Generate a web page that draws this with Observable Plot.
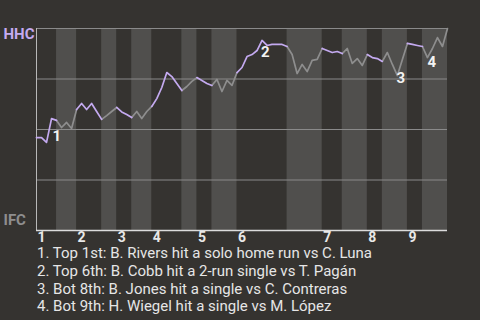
<!DOCTYPE html>
<html><head><meta charset="utf-8">
<script src="https://cdn.jsdelivr.net/npm/d3@7"></script>
<script src="https://cdn.jsdelivr.net/npm/@observablehq/plot@0.6"></script>
<style>
html,body{margin:0;padding:0;background:#353330;width:480px;height:320px;overflow:hidden;}
#notes{font-family:Roboto,sans-serif;font-size:15px;color:#e6e6e6;padding-left:37px;line-height:17.8px;}
</style></head><body>
<div id="chart"></div><div id="notes"></div>
<script>
// plate appearances per half-inning (Top 1, Bot 1, ..., Bot 9)
const halfInningPAs = [4,4,5,3,3,4,6,3,3,5,10,7,4,5,3,5,3,5];
// HHC win probability (%) after each plate appearance
const winProb = [46.0,46.0,43.6,55.4,54.5, 51.0,53.5,50.5,59.9, 62.9,59.9,62.9,58.9,55.0,
  56.9,58.9,60.9, 58.7,57.4,55.9, 58.9,55.4,58.9,61.4, 65.3,70.8,78.2,76.2,72.8,69.3,
  71.3,73.8,75.7, 74.3,72.8,71.8, 74.8,68.8,74.3,71.8,78.2,
  80.7,86.1,87.1,89.1,94.1,91.6,92.1,92.1,92.1,91.1,
  87.1,77.7,82.2,78.7,84.2,84.7,90.1, 89.1,88.1,88.6,87.6,
  90.1,82.7,85.1,81.7,87.1, 85.6,85.1,83.7, 88.1,82.2,76.7,84.7,92.6,
  92.1,91.6,91.1, 85.6,90.1,95.5,91.1,100];
const inningLabels = ["1","2","3","4","5","6","7","8","9"];
const teamTop = "HHC", teamBottom = "IFC";
const annotationIdx = [3,45,72,78];
const annotationText = [
  "1. Top 1st: B. Rivers hit a solo home run vs C. Luna",
  "2. Top 6th: B. Cobb hit a 2-run single vs T. Pagán",
  "3. Bot 8th: B. Jones hit a single vs C. Contreras",
  "4. Bot 9th: H. Wiegel hit a single vs M. López"
];

const purple = "#c4aaf0", gray = "#8e8e8e";
const labelOffsets = [[1,12],[-1,6],[-1,-3],[0,-1]];

const bounds = [0];
halfInningPAs.forEach(n => bounds.push(bounds[bounds.length-1] + n));
const halves = halfInningPAs.map((n,h) => ({x1: bounds[h], x2: bounds[h+1], top: h % 2 === 0}));
const lineData = halves.flatMap((h,k) => d3.range(h.x1, h.x2 + 1).map(i => ({i, wp: winProb[i], half: k, top: h.top})));

const plot = Plot.plot({
  width: 480, height: 245,
  marginTop: 28, marginBottom: 15, marginLeft: 36, marginRight: 33,
  x: {domain: [0, bounds[bounds.length-1]], axis: null},
  y: {domain: [0, 100], axis: null},
  style: {background: "#353330", fontFamily: "Roboto, sans-serif"},
  marks: [
    Plot.rect(halves.filter(h => !h.top), {x1: "x1", x2: "x2", y1: 0, y2: 100, fill: "#504f4d"}),
    Plot.ruleY([25, 50, 75, 100], {stroke: "#8a8a8a", strokeWidth: 1}),
    Plot.ruleX([0], {y1: 0, y2: 100, stroke: "#b8b8b8", strokeWidth: 1}),
    Plot.ruleY([0], {stroke: "#dcdcdc", strokeWidth: 1.3}),
    Plot.line(lineData.filter(d => !d.top), {x: "i", y: "wp", z: "half", stroke: gray, strokeWidth: 1.7}),
    Plot.line(lineData.filter(d => d.top), {x: "i", y: "wp", z: "half", stroke: purple, strokeWidth: 1.7}),
    ...annotationIdx.map((idx, k) => Plot.text([{i: idx, wp: winProb[idx], n: String(k + 1)}], {
      x: "i", y: "wp", text: "n", dx: labelOffsets[k][0], dy: labelOffsets[k][1],
      textAnchor: "start", lineAnchor: "top", fill: "#f2f2f2", fontWeight: "bold", fontSize: 15
    })),
    Plot.text(inningLabels, {x: (d, k) => bounds[2 * k], y: 0, text: d => d, dx: 1, dy: 2,
      textAnchor: "start", lineAnchor: "top", fill: "#e8e8e8", fontWeight: "bold", fontSize: 14}),
    Plot.text([teamTop], {x: 0, y: 100, text: d => d, dx: -33, dy: 6, textAnchor: "start",
      lineAnchor: "middle", fill: purple, fontWeight: "bold", fontSize: 15}),
    Plot.text([teamBottom], {x: 0, y: 0, text: d => d, dx: -33, dy: -10, textAnchor: "start",
      lineAnchor: "middle", fill: gray, fontWeight: "bold", fontSize: 15})
  ]
});
document.getElementById("chart").appendChild(plot);
const notes = document.getElementById("notes");
annotationText.forEach(t => { const d = document.createElement("div"); d.textContent = t; notes.appendChild(d); });
</script>
</body></html>
